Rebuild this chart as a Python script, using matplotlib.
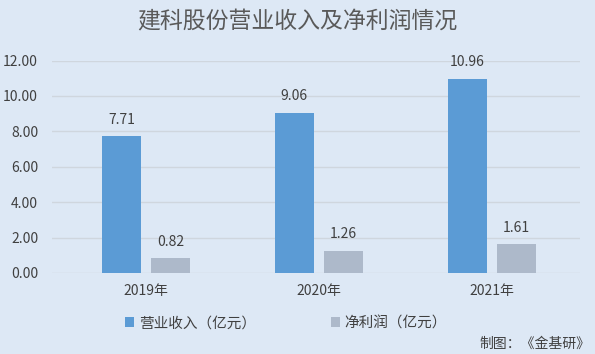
import matplotlib.pyplot as plt
import numpy as np

plt.rcParams['font.family'] = ['Noto Sans CJK SC', 'DejaVu Sans']

# 数据
years = ["2019年", "2020年", "2021年"]
revenue = [7.71, 9.06, 10.96]
profit = [0.82, 1.26, 1.61]

bg = '#dde8f5'
fig = plt.figure(figsize=(5.95, 3.54), dpi=100, facecolor=bg)
ax = fig.add_axes([0.0874, 0.229, 0.887, 0.600], facecolor=bg)

x = np.arange(len(years))
width = 0.225
off = 0.142
b1 = ax.bar(x - off, revenue, width, color='#5b9bd5', label='营业收入（亿元）', zorder=3)
b2 = ax.bar(x + off, profit, width, color='#adb9ca', label='净利润（亿元）', zorder=3)

for bars in (b1, b2):
    ax.bar_label(bars, fmt='%.2f', padding=7, fontsize=10, color='#404040')

ax.set_ylim(0, 12)
ax.set_xlim(-0.543, 2.509)
ax.set_yticks(np.arange(0, 13, 2))
ax.set_yticklabels([f'{v:.2f}' for v in np.arange(0, 13, 2)])
ax.set_xticks(x)
ax.set_xticklabels(years)
ax.tick_params(length=0, labelsize=10, colors='#404040')
ax.tick_params(axis='y', pad=10)
ax.tick_params(axis='x', pad=8)
ax.grid(axis='y', color='#cfd6de', linewidth=1, zorder=0)
ax.spines[:].set_visible(False)

fig.text(0.5, 0.938, '建科股份营业收入及净利润情况', ha='center', va='center',
         fontsize=16.5, color='#595959')

fig.legend(handles=[b1, b2], loc='center', bbox_to_anchor=(0.481, 0.087), ncol=2,
           frameon=False, fontsize=10.5, labelcolor='#404040', handlelength=0.6,
           handleheight=0.6, handletextpad=0.3, columnspacing=5.2)

fig.text(0.993, 0.03, '制图：《金基研》', ha='right', va='center', fontsize=10, color='#404040')

plt.savefig('out.png', dpi=100, facecolor=bg)
